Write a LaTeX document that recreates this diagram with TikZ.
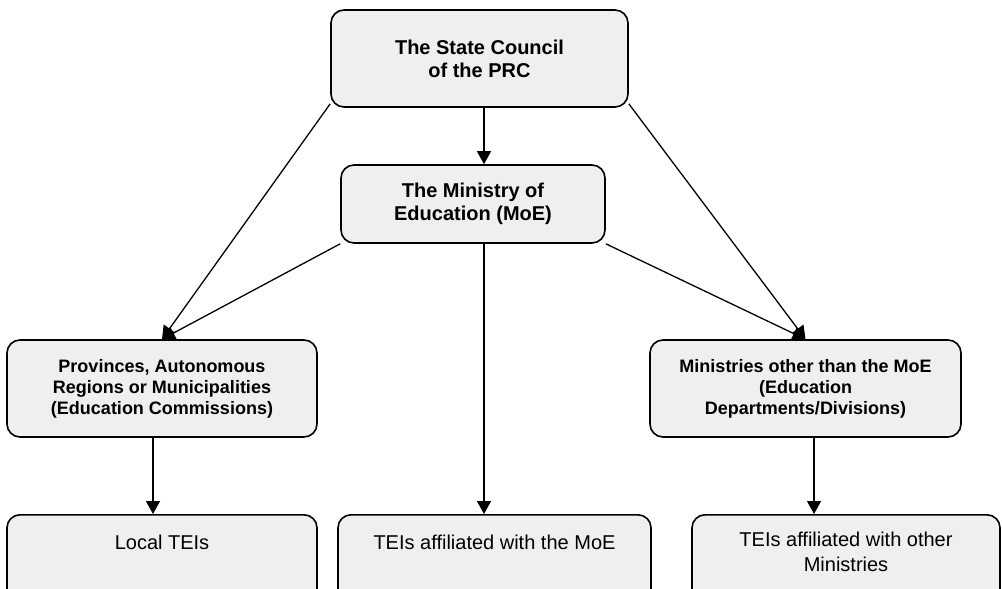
\documentclass[tikz,border=0pt]{standalone}
\usepackage{fontspec}
\setmainfont{Liberation Sans}[Ligatures=CommonOff]
\usetikzlibrary{arrows.meta,positioning}
\definecolor{boxgray}{HTML}{EFEFEF}

\begin{document}
\begin{tikzpicture}[x=1pt, y=-1pt,
		box/.style={draw=black, line width=1.6pt, fill=boxgray, rounded corners=13pt, inner sep=0pt, align=center},
		headbox/.style={box, font=\fontsize{20}{23}\selectfont\bfseries},
		midbox/.style={box, font=\fontsize{18}{21}\selectfont\bfseries},
		teibox/.style={box, anchor=north, minimum height=110pt},
		teitext/.style={inner sep=0pt, align=center, anchor=north, font=\fontsize{20}{25}\selectfont},
		link/.style={line width=1.3pt, -{Triangle[length=13pt,width=14pt]}}]
		%%%%% START %%%%%
		
		\useasboundingbox (0, 0) rectangle (1002, 589);
		
		\node[headbox, minimum width=297pt, minimum height=97pt] (sc) at (479.5, 58.5) {The State Council\\of the PRC};
		\node[headbox, minimum width=264pt, minimum height=78pt] (moe) at (473, 204) {The Ministry of\\Education (MoE)};
		
		\node[midbox, minimum width=310pt, minimum height=97pt] (prov) at (162, 388.5) {Provinces, Autonomous\\Regions or Municipalities\\(Education Commissions)};
		\node[midbox, minimum width=311pt, minimum height=97pt] (min) at (805.5, 388.5) {Ministries other than the MoE\\(Education\\Departments/Divisions)};
		
		\node[teibox, minimum width=310pt] (local) at (162, 514) {};
		\node[teibox, minimum width=313pt] (mtei) at (494.5, 514) {};
		\node[teibox, minimum width=308pt] (otei) at (846, 514) {};
		\node[teitext, below=21pt of local.north] (localtxt) {Local TEIs};
		\node[teitext, below=21pt of mtei.north] (mteitxt) {TEIs affiliated with the MoE};
		\node[teitext, below=18pt of otei.north] (oteitxt) {TEIs affiliated with other\\Ministries};
		
		\draw[link] ([xshift=4.5pt]sc.south) -- ([xshift=11pt]moe.north);
		\draw[link] ([yshift=4pt]sc.south west) -- (prov.north);
		\draw[link] ([yshift=4pt]sc.south east) -- (min.north);
		\draw[link] (moe.south west) -- (prov.north);
		\draw[link] (moe.south east) -- (min.north);
		\draw[link] ([xshift=11pt]moe.south) -- ([xshift=-10.5pt]mtei.north);
		
		\draw[link] ([xshift=-9pt]prov.south) -- ([xshift=-9pt]local.north);
		\draw[link] ([xshift=8.5pt]min.south) -- ([xshift=-32pt]otei.north);
		
		%%%%% END %%%%%
	\end{tikzpicture}
\end{document}
